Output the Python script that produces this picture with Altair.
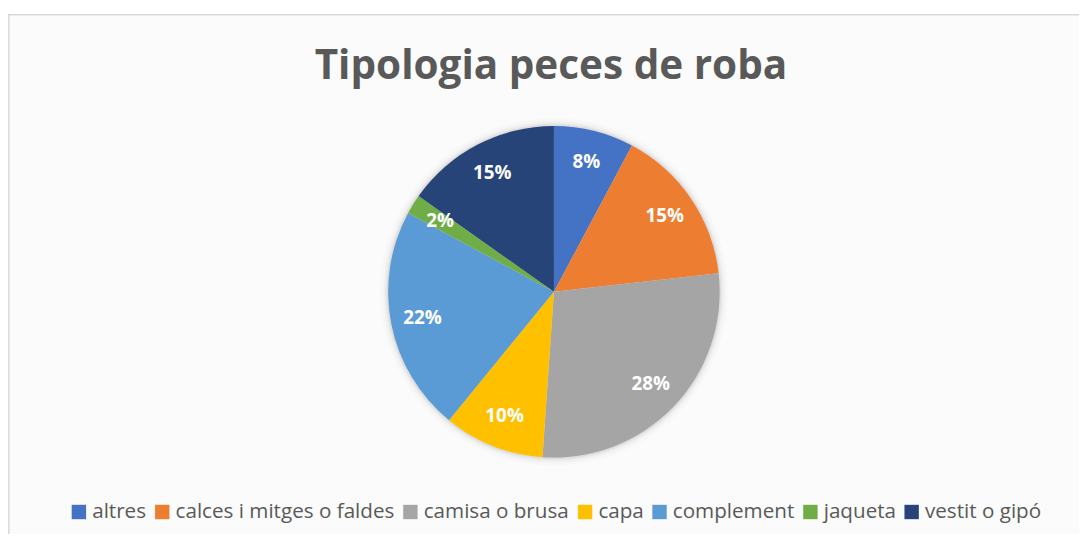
import altair as alt
import pandas as pd

categories = ["altres", "calces i mitges o faldes", "camisa o brusa", "capa",
              "complement", "jaqueta", "vestit o gipó"]
values = [7.8, 15.4, 27.9, 9.8, 22.0, 1.9, 15.2]
colors = ["#4472C4", "#ED7D31", "#A5A5A5", "#FFC000", "#5B9BD5", "#70AD47", "#264478"]
title_text = "Tipologia peces de roba"

df = pd.DataFrame({"cat": categories, "value": values, "idx": list(range(len(categories)))})
dummy = pd.DataFrame({"a": [0]})

CX, CY = 550, 284
R = 167

frame = alt.Chart(dummy).mark_rect(fill="#fbfbfb", stroke="#d9d9d9", strokeWidth=1.5).encode(
    x=alt.value(0.75), x2=alt.value(1300), y=alt.value(4.75), y2=alt.value(900)
)

title = alt.Chart(dummy).mark_text(
    text=title_text, font="Open Sans", fontWeight="bold", fontSize=40.8,
    color="#595959", align="center", baseline="alphabetic"
).encode(x=alt.value(547), y=alt.value(69.7))

base = alt.Chart(df).encode(
    theta=alt.Theta("value:Q", stack=True),
    order=alt.Order("idx:Q"),
    x=alt.value(CX), y=alt.value(CY),
)

shadows = [
    base.mark_arc(radius=R + rr, fill="black", opacity=op)
    for rr, op in [(8, 0.015), (5, 0.025), (3, 0.035), (1.5, 0.05)]
]

pie = base.mark_arc(radius=R).encode(
    color=alt.Color(
        "cat:N",
        scale=alt.Scale(domain=categories, range=colors),
        legend=alt.Legend(
            orient="none", legendX=61, legendY=495, direction="horizontal",
            title=None, symbolType="square", symbolSize=210, symbolStrokeWidth=0,
            labelFont="Open Sans", labelFontSize=20.8, labelColor="#595959",
            labelOffset=3, columnPadding=5, padding=0, labelLimit=500,
        ),
    )
)

labels = base.transform_joinaggregate(total="sum(value)").transform_calculate(
    pct="datum.value / datum.total"
).mark_text(
    radius=135, font="Open Sans", fontWeight="bold", fontSize=19, color="white",
    align="center", baseline="middle"
).encode(text=alt.Text("pct:Q", format=".0%"))

chart = alt.layer(frame, title, *shadows, pie, labels).properties(
    width=1079, height=526, padding=0, autosize=alt.AutoSizeParams(type="none"),
    background="white"
).configure_view(stroke=None)

chart.save("out.html", embed_options={"renderer": "svg", "actions": False})
